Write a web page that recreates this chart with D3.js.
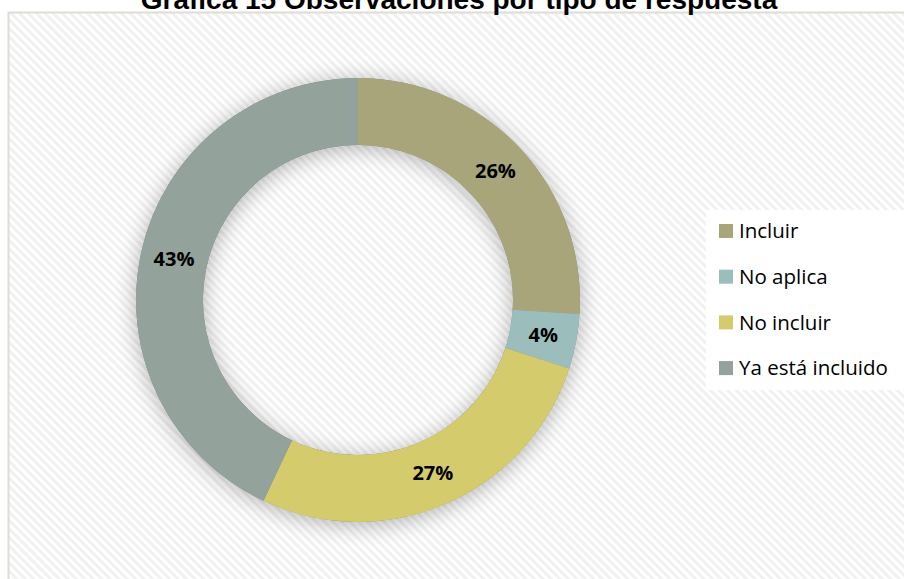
<!DOCTYPE html>
<html lang="es">
<head>
    <meta charset="utf-8" />
    <title>Gráfica 15</title>
    <script src="https://cdn.jsdelivr.net/npm/d3@7"></script>
    <style>
        body { margin: 0; background: #fff; }
        svg { display: block; }
    </style>
</head>
<body>
    <div id="chart"></div>
    <script>
        // datos
        var categories = ["Incluir", "No aplica", "No incluir", "Ya está incluido"];
        var values = [26, 4, 27, 43];
        var colors = ["#a8a57b", "#9bbdbc", "#d3cb6c", "#93a29a"];
        var title = "Gráfica 15 Observaciones por tipo de respuesta";

        var width = 904, height = 579;
        var cx = 358, cy = 300, outerR = 222, innerR = 155;

        var svg = d3.select("#chart").append("svg")
            .attr("width", width)
            .attr("height", height);

        var defs = svg.append("defs");

        // fondo rayado diagonal
        var pat = defs.append("pattern")
            .attr("id", "hatch")
            .attr("patternUnits", "userSpaceOnUse")
            .attr("width", 6)
            .attr("height", 6)
            .attr("patternTransform", "rotate(45)");
        pat.append("rect").attr("width", 6).attr("height", 6).attr("fill", "#ffffff");
        pat.append("rect").attr("width", 6).attr("height", 3).attr("fill", "#f1f1f1");

        var shadow = defs.append("filter")
            .attr("id", "shadow")
            .attr("x", "-25%").attr("y", "-25%")
            .attr("width", "150%").attr("height", "150%");
        shadow.append("feGaussianBlur").attr("in", "SourceAlpha").attr("stdDeviation", 11).attr("result", "blur");
        shadow.append("feOffset").attr("dx", 0).attr("dy", 3).attr("result", "off");
        shadow.append("feComponentTransfer").append("feFuncA").attr("type", "linear").attr("slope", 0.3);
        var merge = shadow.append("feMerge");
        merge.append("feMergeNode");
        merge.append("feMergeNode").attr("in", "SourceGraphic");

        // marco del gráfico
        svg.append("rect")
            .attr("x", 8.5).attr("y", 12.5)
            .attr("width", width).attr("height", height)
            .attr("fill", "url(#hatch)")
            .attr("stroke", "#e0dcd6")
            .attr("stroke-width", 2);

        // título (cortado arriba como en el original)
        svg.append("text")
            .attr("x", 459)
            .attr("y", 9)
            .attr("text-anchor", "middle")
            .style("font-family", "'Liberation Sans', Arial, sans-serif")
            .style("font-weight", "bold")
            .style("font-size", "28px")
            .attr("fill", "#000")
            .text(title);

        var pie = d3.pie().sort(null).value(function (d) { return d; });
        var arc = d3.arc().innerRadius(innerR).outerRadius(outerR);
        var arcs = pie(values);

        var g = svg.append("g").attr("transform", "translate(" + cx + "," + cy + ")");

        // sombra del anillo
        g.append("path")
            .attr("d", d3.arc().innerRadius(innerR).outerRadius(outerR).startAngle(0).endAngle(2 * Math.PI)())
            .attr("fill", "#888")
            .attr("filter", "url(#shadow)");

        g.selectAll("path.slice")
            .data(arcs)
            .enter()
            .append("path")
            .attr("class", "slice")
            .attr("d", arc)
            .attr("fill", function (d, i) { return colors[i]; });

        g.selectAll("text.lbl")
            .data(arcs)
            .enter()
            .append("text")
            .attr("class", "lbl")
            .attr("transform", function (d) { return "translate(" + arc.centroid(d) + ")"; })
            .attr("dy", "0.35em")
            .attr("text-anchor", "middle")
            .style("font-family", "'Open Sans', 'Noto Sans', sans-serif")
            .style("font-weight", "bold")
            .style("font-size", "20px")
            .attr("fill", "#000")
            .text(function (d) { return d.data + "%"; });

        // leyenda
        var legend = svg.append("g").attr("transform", "translate(706,210)");
        legend.append("rect")
            .attr("width", 198).attr("height", 180)
            .attr("fill", "#fff");

        var item = legend.selectAll("g.item")
            .data(categories)
            .enter()
            .append("g")
            .attr("class", "item")
            .attr("transform", function (d, i) { return "translate(13," + (21 + i * 45.7) + ")"; });
        item.append("rect")
            .attr("x", 0).attr("y", -7)
            .attr("width", 14).attr("height", 14)
            .attr("fill", function (d, i) { return colors[i]; });
        item.append("text")
            .attr("x", 20)
            .attr("dy", "0.36em")
            .style("font-family", "'Open Sans', 'Noto Sans', sans-serif")
            .style("font-size", "20.5px")
            .attr("fill", "#000")
            .text(function (d) { return d; });
    </script>
</body>
</html>
